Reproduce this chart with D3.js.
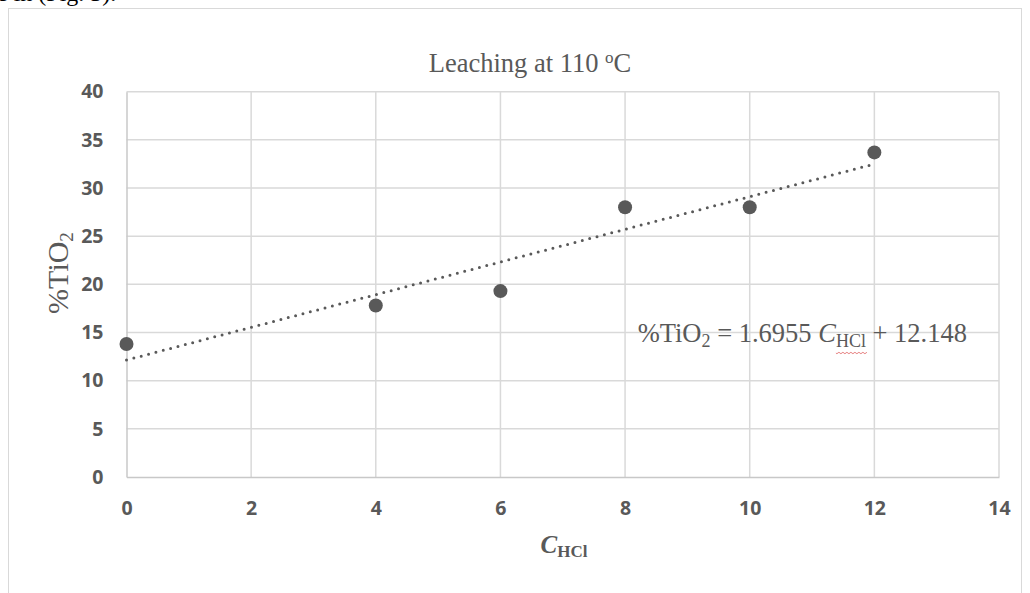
<!DOCTYPE html>
<html>
<head>
<meta charset="utf-8">
<script src="https://cdn.jsdelivr.net/npm/d3@7"></script>
<style>
  html, body { margin: 0; padding: 0; background: #fff; }
  svg { display: block; }
</style>
</head>
<body>
<svg id="chart" width="1030" height="593"></svg>
<script>
// ---- data ----
const xValues = [0, 4, 6, 8, 10, 12];                 // C_HCl
const yValues = [13.8, 17.8, 19.3, 28.0, 28.0, 33.7]; // %TiO2
const xTicks = [0, 2, 4, 6, 8, 10, 12, 14];
const yTicks = [0, 5, 10, 15, 20, 25, 30, 35, 40];
const trendSlope = [1.6955];
const trendIntercept = [12.148];
const trendRange = [0, 12];
const titleText = "Leaching at 110 ";

const svg = d3.select("#chart");
const m = { left: 126.5, right: 999, top: 91.7, bottom: 477 };

const x = d3.scaleLinear().domain([0, 14]).range([m.left, m.right]);
const y = d3.scaleLinear().domain([0, 40]).range([m.bottom, m.top]);

const textColor = "#595959";
const gridColor = "#d9d9d9";
const serif = "Liberation Serif, Times New Roman, serif";

// cut-off document text above the chart
svg.append("text")
  .attr("x", -3).attr("y", 1)
  .attr("font-family", serif)
  .attr("font-size", 24).attr("fill", "#000")
  .text("e in (Fig. 3).");

// chart frame
svg.append("rect")
  .attr("x", 8.5).attr("y", 8.5)
  .attr("width", 1013).attr("height", 620)
  .attr("fill", "#fff").attr("stroke", gridColor).attr("stroke-width", 1);

// gridlines
const grid = svg.append("g");
grid.selectAll("line.h").data(yTicks.filter(d => d > 0)).join("line")
  .attr("x1", m.left).attr("x2", m.right)
  .attr("y1", d => y(d)).attr("y2", d => y(d))
  .attr("stroke", gridColor).attr("stroke-width", 1.5);
grid.selectAll("line.v").data(xTicks.filter(d => d > 0)).join("line")
  .attr("y1", m.top).attr("y2", m.bottom)
  .attr("x1", d => x(d)).attr("x2", d => x(d))
  .attr("stroke", gridColor).attr("stroke-width", 1.5);

// axes via d3 axis
const xAxis = svg.append("g").attr("transform", `translate(0,${m.bottom})`)
  .call(d3.axisBottom(x).tickValues(xTicks).tickSize(0).tickPadding(24).tickFormat(d3.format("d")));
const yAxis = svg.append("g").attr("transform", `translate(${m.left},0)`)
  .call(d3.axisLeft(y).tickValues(yTicks).tickSize(0).tickPadding(23).tickFormat(d3.format("d")));
[xAxis, yAxis].forEach(a => {
  a.select(".domain").attr("stroke", "#c8c8c8").attr("stroke-width", 1.5);
  a.selectAll("text")
    .attr("font-family", "Open Sans, sans-serif")
    .attr("font-weight", "bold")
    .attr("font-size", 19.5)
    .attr("fill", textColor);
});

// trendline (dotted)
svg.append("line")
  .attr("x1", x(trendRange[0])).attr("y1", y(trendIntercept[0] + trendSlope[0] * trendRange[0]))
  .attr("x2", x(trendRange[1])).attr("y2", y(trendIntercept[0] + trendSlope[0] * trendRange[1]))
  .attr("stroke", textColor).attr("stroke-width", 3)
  .attr("stroke-linecap", "round")
  .attr("stroke-dasharray", "0 7.6");

// points
svg.append("g").selectAll("circle").data(xValues.map((v, i) => [v, yValues[i]])).join("circle")
  .attr("cx", d => x(d[0])).attr("cy", d => y(d[1]))
  .attr("r", 7).attr("fill", textColor);

// title
const title = svg.append("text")
  .attr("x", 530).attr("y", 72)
  .attr("text-anchor", "middle")
  .attr("font-family", serif)
  .attr("font-size", 26.5).attr("fill", textColor);
title.append("tspan").text(titleText);
title.append("tspan").attr("font-size", 17).attr("dy", -9).text("o");
title.append("tspan").attr("dy", 9).text("C");

// y axis label
const yl = svg.append("text")
  .attr("transform", "translate(68,273) rotate(-90)")
  .attr("text-anchor", "middle")
  .attr("font-family", serif)
  .attr("font-size", 30).attr("fill", textColor);
yl.append("tspan").text("%TiO");
yl.append("tspan").attr("font-size", 19).attr("dy", 5).text("2");

// x axis label
const xl = svg.append("text")
  .attr("x", 564).attr("y", 553)
  .attr("text-anchor", "middle")
  .attr("font-family", serif)
  .attr("font-weight", "bold")
  .attr("fill", textColor);
xl.append("tspan").attr("font-size", 25).attr("font-style", "italic").text("C");
xl.append("tspan").attr("font-size", 17).attr("dy", 4).text("HCl");

// equation
const eq = svg.append("text")
  .attr("x", 967).attr("y", 342)
  .attr("text-anchor", "end")
  .attr("font-family", serif)
  .attr("font-size", 26.5).attr("fill", textColor);
eq.append("tspan").text("%TiO");
eq.append("tspan").attr("font-size", 18).attr("dy", 5).text("2");
eq.append("tspan").attr("dy", -5).text(` = ${trendSlope[0]} `);
eq.append("tspan").attr("font-style", "italic").text("C");
eq.append("tspan").attr("font-size", 18).attr("dy", 5).text("HCl");
eq.append("tspan").attr("dy", -5).text(` + ${trendIntercept[0]}`);

// red spell-check squiggle under "HCl"
try {
  const n = eq.node();
  const start = n.textContent.indexOf("HCl");
  const s = n.getStartPositionOfChar(start);
  const e = n.getEndPositionOfChar(start + 2);
  const yy = s.y + 6;
  let path = `M${s.x},${yy}`;
  for (let px = s.x; px < e.x; px += 2) path += `L${px + 1},${yy + ((px - s.x) / 2 % 2 ? -0.7 : 0.7)}`;
  svg.append("path").attr("d", path).attr("fill", "none").attr("stroke", "#e06060").attr("stroke-width", 0.8);
} catch (err) {}
</script>
</body>
</html>
